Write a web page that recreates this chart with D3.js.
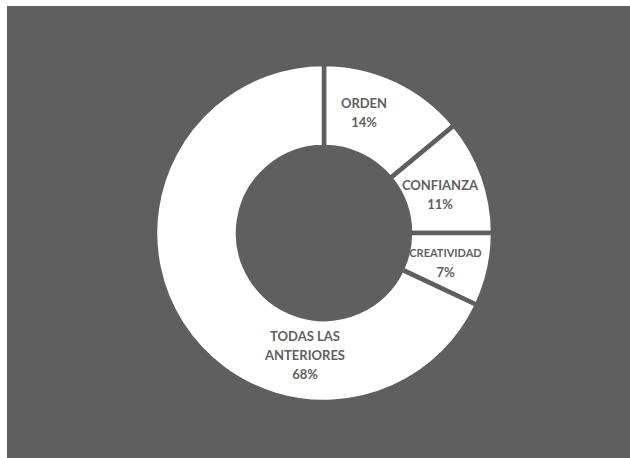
<!DOCTYPE html>
<html>
<head>
<meta charset="utf-8">
<script src="https://cdn.jsdelivr.net/npm/d3@7/dist/d3.min.js"></script>
<style>
  html, body { margin: 0; padding: 0; background: #ffffff; }
  svg { display: block; }
</style>
</head>
<body>
<svg id="chart" width="630" height="458"></svg>
<script>
// Category names (multi-line labels) and their shares in percent
const categories = [["ORDEN"], ["CONFIANZA"], ["CREATIVIDAD"], ["TODAS LAS", "ANTERIORES"]];
const values = [14, 11, 7, 68];
const valueLabels = ["14%", "11%", "7%", "68%"];

const width = 630, height = 458;
const bg = "#5f5f5f";
const cx = 324, cy = 233;
const outerR = 169, innerR = 86;

const svg = d3.select("#chart");

// chart area
svg.append("rect")
  .attr("x", 7).attr("y", 6)
  .attr("width", width - 7).attr("height", height - 6)
  .attr("fill", bg);

const pie = d3.pie().sort(null).value(d => d);
const arcs = pie(values);
const arc = d3.arc().innerRadius(innerR).outerRadius(outerR);

const g = svg.append("g").attr("transform", `translate(${cx},${cy})`);

g.selectAll("path.slice")
  .data(arcs)
  .join("path")
  .attr("class", "slice")
  .attr("d", arc)
  .attr("fill", "#ffffff")
  .attr("stroke", bg)
  .attr("stroke-width", 4.5)
  .attr("stroke-linejoin", "miter");

// label block centres, relative to the donut centre
const labelPos = [[40, -121], [116, -39], [121.5, 29], [-19, 122]];
const fontSizes = [13, 13, 11, 13];
const lineH = 19;

arcs.forEach((a, i) => {
  const lines = categories[i].concat([valueLabels[i]]);
  const [x, yc] = labelPos[i];
  const n = lines.length;
  const t = g.append("text")
    .attr("text-anchor", "middle")
    .attr("font-family", "Lato, 'Open Sans', sans-serif")
    .attr("font-weight", "bold")
    .attr("fill", "#5f5f5f");
  lines.forEach((ln, k) => {
    t.append("tspan")
      .attr("x", x)
      .attr("y", yc + (k - (n - 1) / 2) * lineH)
      .attr("dominant-baseline", "central")
      .attr("font-size", (k === n - 1) ? 13 : fontSizes[i])
      .text(ln);
  });
});
</script>
</body>
</html>
